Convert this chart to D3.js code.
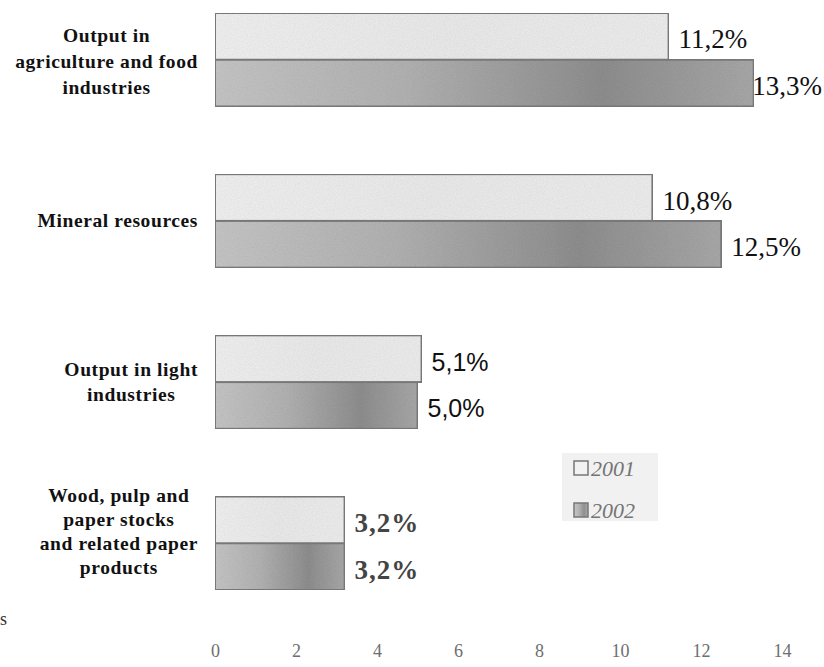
<!DOCTYPE html>
<html>
<head>
<meta charset="utf-8">
<script src="https://cdn.jsdelivr.net/npm/d3@7"></script>
<style>
  html, body { margin: 0; padding: 0; background: #fff; }
  svg { display: block; }
</style>
</head>
<body>
<div id="chart"></div>
<script>
// ---------- data ----------
const categories = [
  "Output in agriculture and food industries",
  "Mineral resources",
  "Output in light industries",
  "Wood, pulp and paper stocks and related paper products"
];
const categoryLines = [
  ["Output in", "agriculture and food", "industries"],
  ["Mineral  resources"],
  ["Output in light", "industries"],
  ["Wood, pulp and", "paper  stocks", "and related paper", "products"]
];
const years = ["2001", "2002"];
const values2001 = [11.2, 10.8, 5.1, 3.2];
const values2002 = [13.3, 12.5, 5.0, 3.2];
const valueLabels2001 = ["11,2%", "10,8%", "5,1%", "3,2%"];
const valueLabels2002 = ["13,3%", "12,5%", "5,0%", "3,2%"];
const xTicks = [0, 2, 4, 6, 8, 10, 12, 14];

// ---------- layout ----------
const W = 824, H = 667;
const SERIF = "Liberation Serif";
const SANS = "Liberation Sans";
const svg = d3.select("#chart").append("svg").attr("width", W).attr("height", H);
const defs = svg.append("defs");

const g2002 = defs.append("linearGradient").attr("id", "grad2002");
[["0%", "#c6c6c6"], ["35%", "#b3b3b3"], ["72%", "#8f8f8f"], ["100%", "#a9a9a9"]]
  .forEach(([o, c]) => g2002.append("stop").attr("offset", o).attr("stop-color", c));
const g2001 = defs.append("linearGradient").attr("id", "grad2001");
[["0%", "#f1f1f1"], ["50%", "#ebebeb"], ["100%", "#eeeeee"]]
  .forEach(([o, c]) => g2001.append("stop").attr("offset", o).attr("stop-color", c));

// subtle scan-like texture
const f = defs.append("filter").attr("id", "grain").attr("x", 0).attr("y", 0).attr("width", 1).attr("height", 1);
f.append("feTurbulence").attr("type", "fractalNoise").attr("baseFrequency", 0.9).attr("numOctaves", 2).attr("seed", 3).attr("result", "n");
f.append("feColorMatrix").attr("in", "n").attr("type", "matrix")
  .attr("values", "0 0 0 0 0  0 0 0 0 0  0 0 0 0 0  0 0 0 0.18 -0.02").attr("result", "nm");
f.append("feComposite").attr("in", "nm").attr("in2", "SourceGraphic").attr("operator", "in").attr("result", "nc");
f.append("feMerge").selectAll("feMergeNode").data(["SourceGraphic", "nc"]).join("feMergeNode").attr("in", d => d);

const x = d3.scaleLinear().domain([0, 14]).range([215, 782]);
const y = d3.scaleBand().domain(categories).range([13, 590]).paddingInner(0.42).paddingOuter(0);
const yInner = d3.scaleBand().domain(years).range([0, y.bandwidth()]).padding(0);

const rows = categories.map((c, i) => ({
  cat: c, i,
  bars: [
    { year: "2001", v: values2001[i], label: valueLabels2001[i] },
    { year: "2002", v: values2002[i], label: valueLabels2002[i] }
  ]
}));

// label font styles per category row (as in the original scan)
const valueFont = [
  { family: SERIF, size: 27, weight: 400, fill: "#111", ls: 0 },
  { family: SERIF, size: 27, weight: 400, fill: "#111", ls: 0 },
  { family: SANS, size: 25, weight: 400, fill: "#111", ls: 0 },
  { family: SERIF, size: 27, weight: 700, fill: "#444", ls: 1 }
];
// vertical nudge of each category label block, and its line height
const catShift = [2, 0, 0, -12];
const catLineH = [26, 25, 25, 24];

const grp = svg.append("g").selectAll("g.row").data(rows).join("g")
  .attr("class", "row").attr("transform", d => `translate(0,${y(d.cat)})`);

grp.selectAll("rect.bar").data(d => d.bars).join("rect")
  .attr("class", "bar")
  .attr("x", x(0))
  .attr("y", d => yInner(d.year))
  .attr("width", d => x(d.v) - x(0))
  .attr("height", yInner.bandwidth())
  .attr("fill", d => d.year === "2001" ? "url(#grad2001)" : "url(#grad2002)")
  .attr("filter", "url(#grain)")
  .attr("stroke", "#7c7c7c")
  .attr("stroke-width", 2);

grp.each(function (row) {
  const st = valueFont[row.i];
  d3.select(this).selectAll("text.val").data(row.bars).join("text")
    .attr("class", "val")
    .attr("y", d => yInner(d.year) + yInner.bandwidth() / 2 + 3)
    .attr("dominant-baseline", "central")
    .attr("font-family", st.family)
    .attr("font-size", st.size)
    .attr("font-weight", st.weight)
    .attr("letter-spacing", st.ls)
    .attr("fill", st.fill)
    .text(d => d.label)
    .attr("x", function (d) {
      const w = this.getComputedTextLength();
      return Math.min(x(d.v) + 10, W - w - 2);
    });
});

// category labels: block right-aligned at 198, lines centred within the block
const catG = svg.append("g").selectAll("g.cat").data(rows).join("g").attr("class", "cat");
catG.each(function (row) {
  const lines = categoryLines[row.i];
  const g = d3.select(this);
  const lh = catLineH[row.i];
  const cy = y(row.cat) + y.bandwidth() / 2 + catShift[row.i];
  const t = g.selectAll("text").data(lines).join("text")
    .attr("y", (d, k) => cy + (k - (lines.length - 1) / 2) * lh)
    .attr("dominant-baseline", "central")
    .attr("text-anchor", "middle")
    .attr("font-family", SERIF)
    .attr("font-weight", 700)
    .attr("font-size", 19.5)
    .attr("letter-spacing", 0.6)
    .attr("fill", "#111")
    .text(d => d);
  let maxW = 0;
  t.each(function () { maxW = Math.max(maxW, this.getComputedTextLength()); });
  t.attr("x", 198 - maxW / 2);
});

// x axis: tick labels only
const axis = d3.axisBottom(x).tickValues(xTicks).tickSize(0).tickPadding(0).tickFormat(d3.format("d"));
const ax = svg.append("g").attr("transform", "translate(0,644)").call(axis);
ax.select(".domain").remove();
ax.selectAll("text")
  .attr("font-family", SERIF)
  .attr("font-size", 18)
  .attr("fill", "#6e6e6e");

// legend
const lg = svg.append("g");
lg.append("rect").attr("x", 562).attr("y", 453).attr("width", 96).attr("height", 68).attr("fill", "#f1f1f1");
const li = lg.selectAll("g.li").data(years).join("g").attr("class", "li")
  .attr("transform", (d, k) => `translate(574,${468 + k * 42})`);
li.append("rect").attr("x", 0).attr("y", -7).attr("width", 14).attr("height", 14)
  .attr("fill", d => d === "2001" ? "#f2f2f2" : "url(#grad2002)")
  .attr("stroke", "#777").attr("stroke-width", 1.5);
li.append("text").attr("x", 17).attr("y", 0).attr("dominant-baseline", "central")
  .attr("font-family", SERIF)
  .attr("font-style", "italic").attr("font-size", 22)
  .attr("fill", "#747474")
  .text(d => d);

// stray mark from the original scan
svg.append("text").attr("x", 0).attr("y", 625)
  .attr("font-family", SERIF).attr("font-size", 18).attr("fill", "#333").text("s");
</script>
</body>
</html>
